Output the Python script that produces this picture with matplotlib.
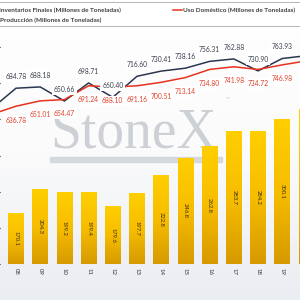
import numpy as np
import matplotlib
matplotlib.use('Agg')
from matplotlib import pyplot as plt
from matplotlib.patches import Rectangle
from matplotlib.lines import Line2D
from matplotlib.colors import LinearSegmentedColormap

plt.rcParams['font.family'] = ['Lato', 'DejaVu Sans']

# datos (campañas 07/08 ... 20/21)
campanas = ['07', '08', '09', '10', '11', '12', '13', '14', '15', '16', '17', '18', '19', '20']
inventarios = [126.0, 170.1, 204.3, 199.2, 199.4, 179.6, 197.7, 222.8, 246.8, 262.8, 283.7, 284.2, 300.1, 314.5]
produccion = [630.78, 684.78, 688.18, 650.66, 698.71, 660.40, 716.60, 730.41, 738.16, 756.31, 762.88, 730.90, 763.93, 771.52]
uso_domestico = [615.22, 636.78, 651.01, 654.47, 691.24, 688.10, 691.16, 700.51, 713.14, 734.80, 741.98, 734.72, 746.98, 757.62]

color_barra_top = '#ffcf00'
color_barra_base = '#d69a00'
color_prod = '#2b3650'
color_uso = '#e8321e'

fig = plt.figure(figsize=(3, 3), dpi=100)

# fondo degradado
fondo = fig.add_axes([0, 0, 1, 1], zorder=-10)
grad = np.linspace(0, 1, 256).reshape(-1, 1)
cmap_fondo = LinearSegmentedColormap.from_list('fondo', ['#ffffff', '#fbfbfc', '#eaedf1'])
fondo.imshow(grad, aspect='auto', cmap=cmap_fondo, extent=[0, 1, 0, 1], origin='upper')
fondo.set_axis_off()

x = np.arange(len(campanas))
x_lim = (0.339, 12.736)

ax = fig.add_axes([0, 0.12, 1, 0.88])
ax.patch.set_alpha(0)
barras = ax.bar(x, inventarios, width=0.65, bottom=0, color=color_barra_top, zorder=2)
cmap_barra = LinearSegmentedColormap.from_list('barra', [color_barra_top, '#f7bd00', color_barra_base])
for b in barras:
    x0, w, h = b.get_x(), b.get_width(), b.get_height()
    im = ax.imshow(grad, aspect='auto', cmap=cmap_barra, extent=[x0, x0 + w, 100, h],
                   origin='upper', zorder=2.1)
    im.set_clip_path(b)

ax.set_xlim(*x_lim)
ax.set_ylim(100, 465)
for xi, v in zip(x, inventarios):
    if x_lim[0] < xi - 0.3 and xi + 0.3 < x_lim[1]:
        ax.text(xi, (100 + v) / 2, f'{v:.1f}', rotation=270, ha='center', va='center',
                fontsize=4.2, color='#3b2f10', zorder=3)

ax.set_xticks(x)
ax.set_xticklabels(campanas, rotation=270, fontsize=4.3, color='#333333')
ax.tick_params(axis='x', length=0, pad=3)
ax.tick_params(axis='y', left=False, labelleft=False)
for s in ax.spines.values():
    s.set_visible(False)

# marca de agua
ax.text(0.445, 0.44, 'StoneX', transform=ax.transAxes, ha='center', va='baseline',
        fontsize=40, family='Liberation Serif', color='#cdd0d5', zorder=1)
ax.text(0.76, 0.625, '™', transform=ax.transAxes, ha='center', va='center',
        fontsize=4, color='#cdd0d5', zorder=1)
ax.add_patch(Rectangle((50 / 300, (264 - 162) / 264), 172 / 300, 5 / 264,
                       transform=ax.transAxes, color='#d5d8dd', zorder=1))

# lineas
ax2 = ax.twinx()
ax2.plot(x, produccion, color=color_prod, lw=1.1, zorder=4)
ax2.plot(x, uso_domestico, color=color_uso, lw=1.1, zorder=4)
ax2.set_ylim(216, 920)
ax2.set_xlim(*x_lim)
ax2.axis('off')

for xi, v in zip(x, produccion):
    ax2.annotate(f'{v:.2f}', (xi, v), xytext=(0, 8.3), textcoords='offset points',
                 ha='center', va='center', fontsize=4.9, color='#3a3f4c', zorder=5,
                 bbox=dict(boxstyle='square,pad=0.25', fc='white', ec='none'))
for xi, v in zip(x, uso_domestico):
    ax2.annotate(f'{v:.2f}', (xi, v), xytext=(0, -10), textcoords='offset points',
                 ha='center', va='center', fontsize=4.9, color='#e0402a', zorder=5,
                 bbox=dict(boxstyle='square,pad=0.25', fc='white', ec='none'))

# leyenda (recortada a la izquierda)
fig.patches.append(Rectangle((-0.1, 1 - 25.5 / 300), 1.2, 24 / 300, transform=fig.transFigure,
                             fc='white', ec='#b5b5b5', lw=0.7, zorder=5))
fig.text(-1 / 300, 1 - 10 / 300, 'Inventarios Finales (Millones de Toneladas)', ha='left', va='center',
         fontsize=4.6, fontweight='bold', color='#404040', zorder=6)
fig.text(0 / 300, 1 - 20 / 300, 'Producción (Millones de Toneladas)', ha='left', va='center',
         fontsize=4.6, fontweight='bold', color='#404040', zorder=6)
fig.text(183 / 300, 1 - 10 / 300, 'Uso Doméstico (Millones de Toneladas)', ha='left', va='center',
         fontsize=4.6, fontweight='bold', color='#404040', zorder=6)
fig.lines.append(Line2D([173 / 300, 182 / 300], [1 - 10 / 300, 1 - 10 / 300], transform=fig.transFigure,
                        color=color_uso, lw=1.1, zorder=6))
fig.lines.append(Line2D([-12 / 300, -3 / 300], [1 - 20 / 300, 1 - 20 / 300], transform=fig.transFigure,
                        color=color_prod, lw=1.1, zorder=6))

plt.savefig('out.png', dpi=100)
